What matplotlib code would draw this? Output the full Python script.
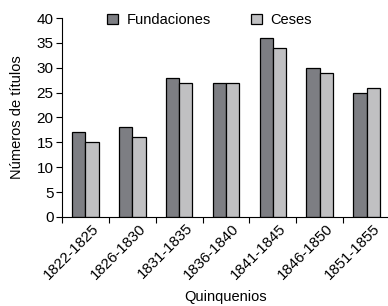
import matplotlib
matplotlib.use("Agg")
import matplotlib.pyplot as plt
import matplotlib.transforms as mtransforms
import numpy as np

categories = ["1822-1825", "1826-1830", "1831-1835", "1836-1840", "1841-1845", "1846-1850", "1851-1855"]
fundaciones = [17, 18, 28, 27, 36, 30, 25]
ceses = [15, 16, 27, 27, 34, 29, 26]
yticks = [0, 5, 10, 15, 20, 25, 30, 35, 40]

plt.rcParams['font.family'] = ['Liberation Sans', 'DejaVu Sans']

fig = plt.figure(figsize=(3.88, 3.06), dpi=100)
ax = fig.add_axes([62/388, 89/306, 328/388, 199/306])

x = np.arange(len(categories))
w = 0.285
ax.bar(x - w/2, fundaciones, w, color='#7d7e83', edgecolor='black', linewidth=0.9, label='Fundaciones')
ax.bar(x + w/2, ceses, w, color='#c0c0c2', edgecolor='black', linewidth=0.9, label='Ceses')

ax.set_xlim(-0.5, len(categories) - 0.5)
ax.set_ylim(0, 40)
ax.set_yticks(yticks)
ax.set_xticks(x)
ax.set_xticks(np.arange(len(categories)) - 0.5, minor=True)
ax.tick_params(axis='x', which='major', length=0, pad=3)
ax.tick_params(axis='x', which='minor', length=4, width=0.8)
ax.tick_params(axis='y', length=4, width=0.8, labelsize=11, pad=2)

ax.set_xticklabels(categories, fontsize=10.8)
offset = mtransforms.ScaledTranslation(16/100, 0, fig.dpi_scale_trans)
for lab in ax.get_xticklabels():
    lab.set_rotation(45)
    lab.set_ha('right')
    lab.set_va('top')
    lab.set_transform(lab.get_transform() + offset)

for s in ['top', 'right']:
    ax.spines[s].set_visible(False)
ax.spines['left'].set_linewidth(0.8)
ax.spines['bottom'].set_linewidth(0.8)

ax.set_ylabel('Números de títulos', fontsize=10.5, labelpad=9)
ax.set_xlabel('Quinquenios', fontsize=10.5, labelpad=6)

leg = ax.legend(loc='upper center', bbox_to_anchor=(0.45, 1.09), ncol=2, frameon=False,
                fontsize=10.5, handlelength=0.7, handleheight=0.7, handletextpad=0.6,
                columnspacing=2.8)

fig.savefig('out.png', dpi=100)
